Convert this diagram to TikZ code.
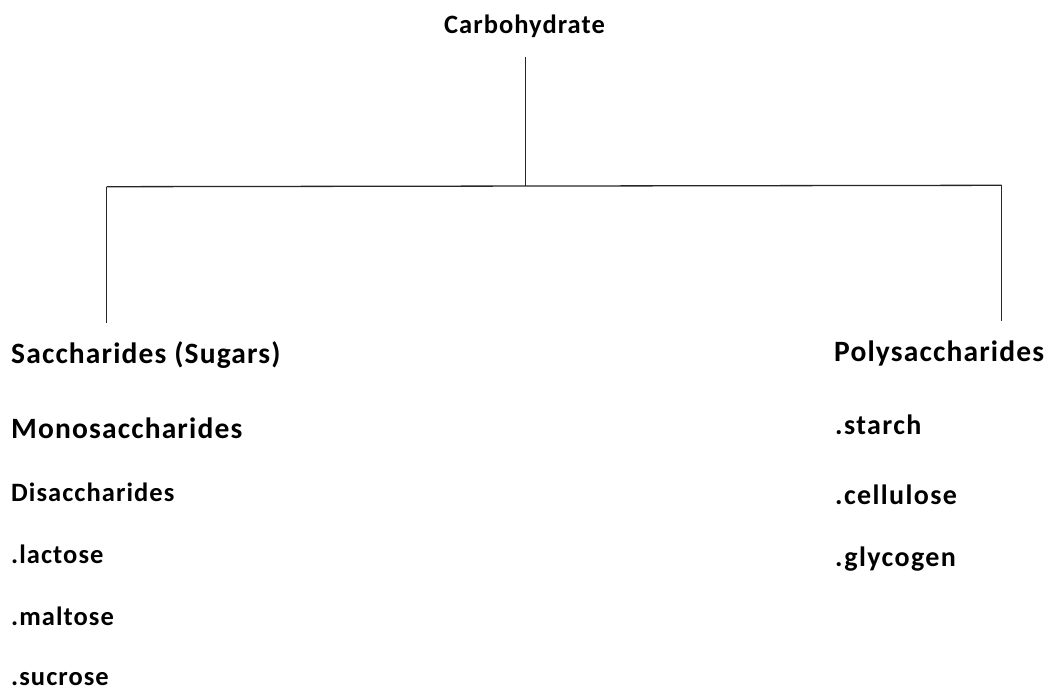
\documentclass[tikz,border=0pt]{standalone}
\usepackage{fontspec}
\setmainfont{Carlito}
\newfontfamily\bigf[LetterSpace=3.9]{Carlito}
\newfontfamily\smallf[LetterSpace=4.0]{Carlito}
\newfontfamily\rightf[LetterSpace=5.0]{Carlito}
\tikzset{
  big/.style={anchor=base west, inner sep=0pt, font=\bigf\bfseries\fontsize{29.5}{32}\selectfont, text=black},
  small/.style={anchor=base west, inner sep=0pt, font=\smallf\bfseries\fontsize{26.5}{30}\selectfont, text=black},
  ritem/.style={anchor=base west, inner sep=0pt, font=\rightf\bfseries\fontsize{28}{30}\selectfont, text=black},
  conn/.style={line width=1.3pt, draw=black!85}
}
\begin{document}
\begin{tikzpicture}[x=1pt,y=-1pt]
\useasboundingbox (0,0) rectangle (1050,691);
\node[small, anchor=base] (carb) at (524.5,33) {Carbohydrate};
\node[big] (sacch) at (11,363) {Saccharides (Sugars)};
\node[big] (mono) at (11,438) {Monosaccharides};
\node[small] (disa) at (11,501) {Disaccharides};
\node[small] (lact) at (11,563) {.lactose};
\node[small] (malt) at (11,625) {.maltose};
\node[small] (sucr) at (11,685) {.sucrose};
\node[big] (poly) at (834,361) {Polysaccharides};
\node[ritem] (star) at (835,434) {.starch};
\node[ritem] (cell) at (835,504) {.cellulose};
\node[ritem] (glyc) at (835,566) {.glycogen};
\coordinate (tc) at (525.7,57);
\coordinate (mc) at (525.7,186);
\coordinate (lc) at (106.7,186.7);
\coordinate (rc) at (1001.7,185.3);
\coordinate (lb) at (106.7,322.7);
\coordinate (rb) at (1001.7,320.7);
\draw[conn] (tc) -- (mc);
\draw[conn] (lc) -- (rc);
\draw[conn] (lc) -- (lb);
\draw[conn] (rc) -- (rb);
\end{tikzpicture}
\end{document}
